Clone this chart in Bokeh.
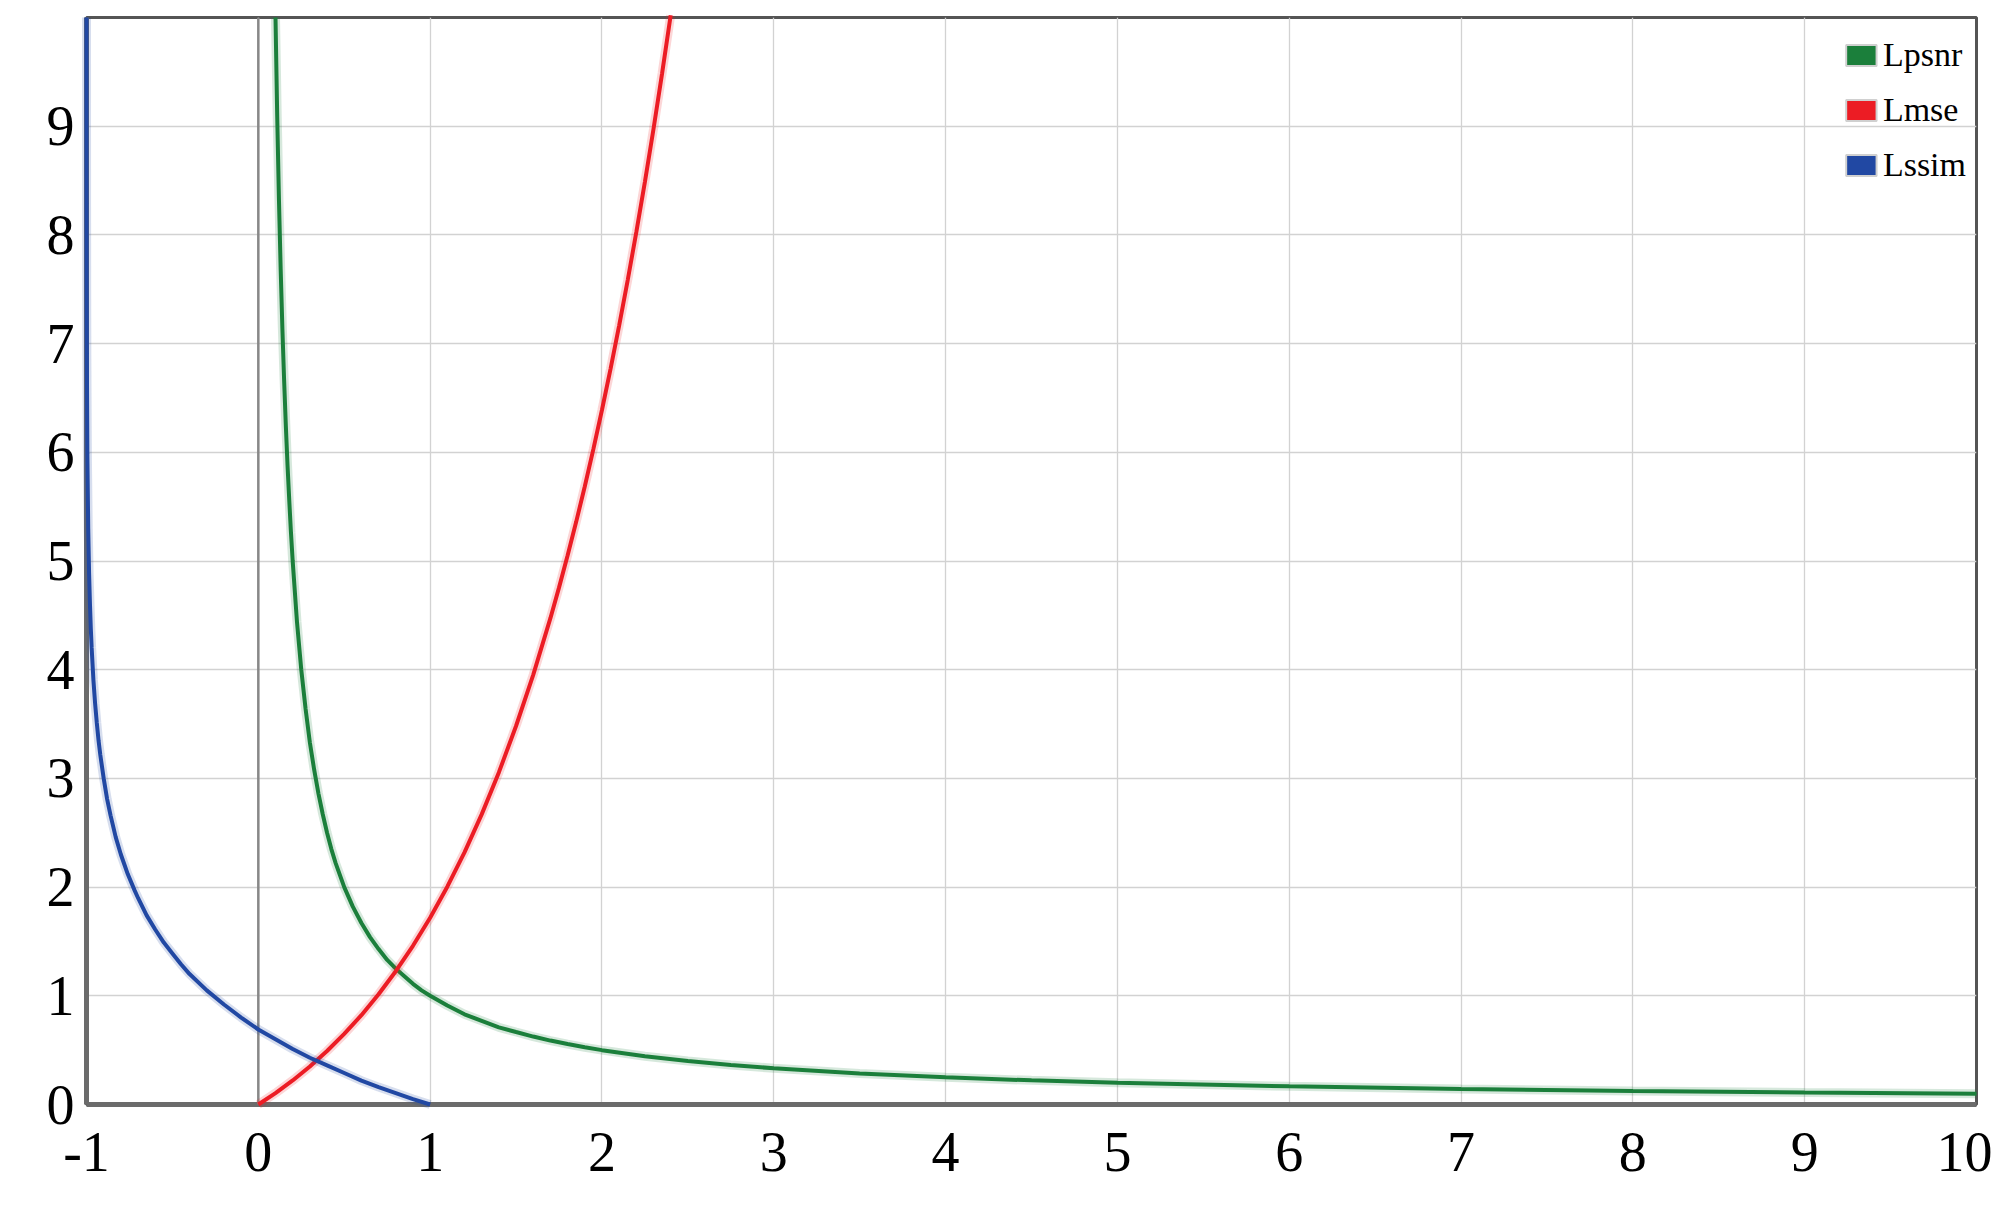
from bokeh.plotting import figure
from bokeh.models import Range1d, FixedTicker, Span, Legend, LegendItem
from bokeh.embed import file_html
from bokeh.resources import INLINE

# ---- data ----
x_ticks = [-1, 0, 1, 2, 3, 4, 5, 6, 7, 8, 9, 10]
y_ticks = [0, 1, 2, 3, 4, 5, 6, 7, 8, 9]
x_tick_labels = {-1: "-1"}

psnr_x = [0.1, 0.11, 0.12, 0.13, 0.14, 0.15, 0.16, 0.17, 0.18, 0.19, 0.2, 0.225, 0.25, 0.275, 0.3,
          0.325, 0.35, 0.375, 0.4, 0.425, 0.45, 0.475, 0.5, 0.55, 0.6, 0.65, 0.7, 0.75, 0.8, 0.85,
          0.9, 0.95, 1.0, 1.1, 1.2, 1.3, 1.4, 1.5, 1.6, 1.7, 1.8, 1.9, 2.0, 2.25, 2.5, 2.75, 3.0,
          3.5, 4.0, 4.5, 5.0, 6.0, 7.0, 8.0, 9.0, 10.0]
psnr_y = [10.0, 9.09, 8.33, 7.69, 7.14, 6.67, 6.25, 5.88, 5.56, 5.26, 5.0, 4.44, 4.0, 3.64, 3.33,
          3.08, 2.86, 2.67, 2.5, 2.35, 2.22, 2.11, 2.0, 1.82, 1.67, 1.54, 1.43, 1.33, 1.25, 1.18,
          1.11, 1.05, 1.0, 0.91, 0.83, 0.77, 0.71, 0.667, 0.625, 0.588, 0.556, 0.526, 0.5, 0.444, 0.4, 0.364, 0.333,
          0.286, 0.25, 0.222, 0.2, 0.167, 0.143, 0.125, 0.111, 0.1]

mse_x = [0.0, 0.1, 0.2, 0.3, 0.4, 0.5, 0.6, 0.7, 0.8, 0.9, 1.0, 1.1, 1.2, 1.3, 1.4, 1.5, 1.6,
         1.7, 1.75, 1.8, 1.85, 1.9, 1.95, 2.0, 2.05, 2.1, 2.15, 2.2, 2.25, 2.3, 2.35, 2.4]
mse_y = [0.0, 0.105, 0.221, 0.35, 0.492, 0.649, 0.822, 1.014, 1.226, 1.46, 1.718, 2.004, 2.32,
         2.669, 3.055, 3.482, 3.953, 4.474, 4.755, 5.05, 5.36, 5.686, 6.029, 6.389, 6.768, 7.166,
         7.585, 8.025, 8.488, 8.974, 9.486, 10.02]

ssim_x = [-0.99991, -0.9998, -0.9997, -0.9995, -0.999, -0.998, -0.995, -0.99, -0.985, -0.98,
          -0.975, -0.97, -0.96, -0.95, -0.94, -0.93, -0.92, -0.9, -0.88, -0.86, -0.83, -0.8,
          -0.78, -0.76, -0.72, -0.7, -0.65, -0.6, -0.55, -0.5, -0.45, -0.4, -0.3, -0.2, -0.1,
          0.0, 0.1, 0.2, 0.3, 0.4, 0.5, 0.6, 0.7, 0.8, 0.9, 1.0]
ssim_y = [10.0, 9.21, 8.8, 8.29, 7.6, 6.91, 5.99, 5.3, 4.89, 4.61,
          4.38, 4.2, 3.91, 3.69, 3.51, 3.35, 3.22, 3.0, 2.81, 2.66, 2.46, 2.3,
          2.21, 2.12, 1.97, 1.9, 1.74, 1.61, 1.49, 1.39, 1.29, 1.2, 1.05, 0.92, 0.8,
          0.69, 0.6, 0.51, 0.43, 0.36, 0.29, 0.22, 0.16, 0.105, 0.05, 0.0]

names = ["Lpsnr", "Lmse", "Lssim"]
colors = ["#1b7f3b", "#ec1c24", "#2148a3"]

# ---- figure ----
p = figure(width=1992, height=1204, x_range=Range1d(-1, 10), y_range=Range1d(0, 10),
           output_backend="svg", toolbar_location=None,
           min_border_left=86, min_border_right=16, min_border_top=17, min_border_bottom=100)

p.background_fill_color = "white"
p.border_fill_color = "white"
p.outline_line_color = "#555555"
p.outline_line_width = 3

p.xgrid.ticker = FixedTicker(ticks=x_ticks)
p.ygrid.ticker = FixedTicker(ticks=y_ticks)
for g in (p.xgrid, p.ygrid):
    g.grid_line_color = "#d2d2d2"
    g.grid_line_width = 1.3

p.xaxis.ticker = FixedTicker(ticks=x_ticks)
p.yaxis.ticker = FixedTicker(ticks=y_ticks)
p.xaxis.major_label_overrides = x_tick_labels
for ax in (p.xaxis, p.yaxis):
    ax.major_tick_line_color = None
    ax.minor_tick_line_color = None
    ax.major_tick_out = 0
    ax.major_tick_in = 0
    ax.axis_line_color = "#6b6b6b"
    ax.axis_line_width = 5
    ax.major_label_text_font = "Liberation Serif"
    ax.major_label_text_font_size = "56px"
    ax.major_label_text_color = "#000000"
p.xaxis.major_label_standoff = 28
p.yaxis.major_label_standoff = 12

p.add_layout(Span(location=0, dimension="height", line_color="#888888", line_width=2.5))

series = [(psnr_x, psnr_y), (mse_x, mse_y), (ssim_x, ssim_y)]
for (xs, ys), c in zip(series, colors):
    p.line(xs, ys, line_color=c, line_width=9, line_alpha=0.18, level="overlay")
    p.line(xs, ys, line_color=c, line_width=4, level="overlay")

nan = float("nan")
items = []
for name, c in zip(names, colors):
    r = p.quad(left=[nan], right=[nan], top=[nan], bottom=[nan],
               fill_color=c, line_color="#d0d0d0", line_width=2)
    items.append(LegendItem(label=name, renderers=[r]))

legend = Legend(items=items, location="top_right",
                label_text_font="Liberation Serif", label_text_font_size="34px",
                label_text_color="#000000",
                glyph_width=38, glyph_height=26, label_height=55, spacing=0,
                label_standoff=3, border_line_color=None, background_fill_alpha=0,
                padding=3, margin=10)
p.add_layout(legend)

open("out.html", "w").write(file_html(p, INLINE))
